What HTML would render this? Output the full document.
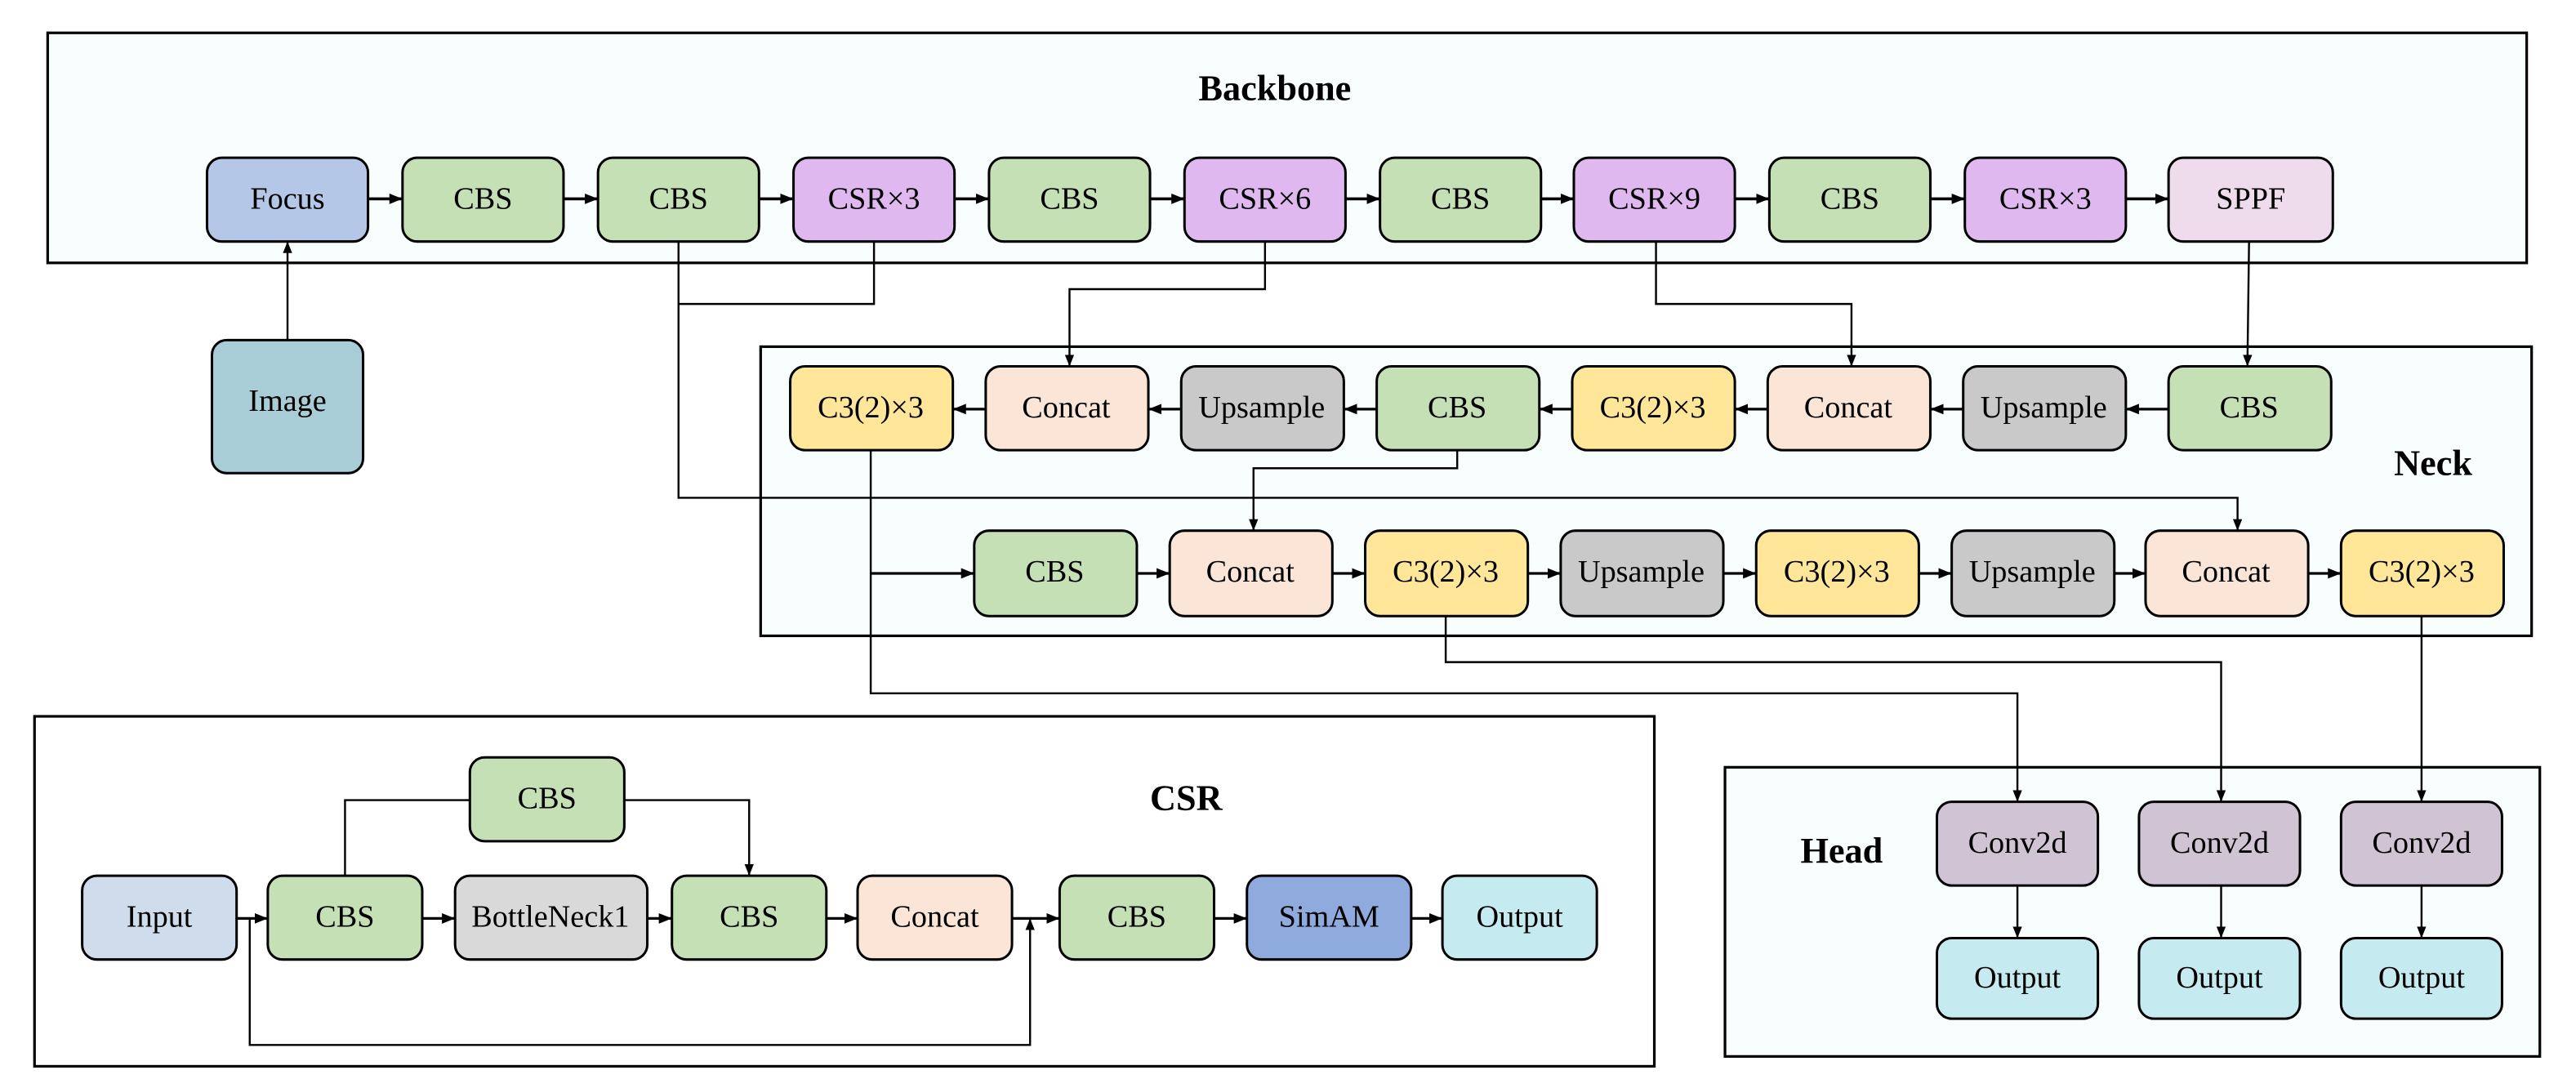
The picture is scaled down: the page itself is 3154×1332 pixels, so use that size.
<!DOCTYPE html>
<html><head><meta charset="utf-8"><style>
html,body{margin:0;padding:0;background:#fff;width:3154px;height:1332px;overflow:hidden}
#w{position:absolute;left:0;top:0;width:1568px;height:662.2px;transform:scale(2.01148);transform-origin:0 0}
svg{position:absolute;left:0;top:0;display:block}
.t{position:absolute;width:140px;margin-left:-70px;height:24px;line-height:24px;margin-top:-12px;text-align:center;font-family:"Liberation Serif","Times New Roman",serif;font-size:19px;color:#000;white-space:nowrap}
.b{font-weight:bold;font-size:22px}
</style></head>
<body><div id="w">
<svg width="1568" height="662.2" viewBox="0 0 1568 662.2" xmlns="http://www.w3.org/2000/svg">
<defs>
<marker id="a" viewBox="0 0 10 10" refX="10" refY="5" markerWidth="7" markerHeight="7" orient="auto" markerUnits="userSpaceOnUse"><path d="M0,1 L10,5 L0,9 z" fill="#000"/></marker>
<marker id="b" viewBox="0 0 10 10" refX="10" refY="5" markerWidth="8" markerHeight="8" orient="auto" markerUnits="userSpaceOnUse"><path d="M0,1 L10,5 L0,9 z" fill="#000"/></marker>
</defs>
<g fill="#f8fdfd" stroke="#000" stroke-width="1.6">
<rect x="29" y="20" width="1509" height="140"/>
<rect x="463" y="211" width="1078" height="176"/>
<rect x="1050" y="467" width="496" height="176"/>
<rect x="21" y="436" width="986" height="213" fill="#fff"/>
</g>
<g stroke="#000" stroke-width="1.2" fill="none">
<g stroke-width="1.8" marker-end="url(#b)">
<line x1="224" y1="121" x2="245" y2="121"/><line x1="343" y1="121" x2="364" y2="121"/><line x1="462" y1="121" x2="483" y2="121"/><line x1="581" y1="121" x2="602" y2="121"/><line x1="700" y1="121" x2="721" y2="121"/><line x1="819" y1="121" x2="840" y2="121"/><line x1="938" y1="121" x2="958" y2="121"/><line x1="1056" y1="121" x2="1077" y2="121"/><line x1="1175" y1="121" x2="1196" y2="121"/><line x1="1294" y1="121" x2="1320" y2="121"/>
</g>
<line x1="175" y1="207" x2="175" y2="147" marker-end="url(#a)"/>
<polyline points="532,147 532,185 413,185"/>
<polyline points="413,147 413,303 1362,303 1362,323" marker-end="url(#a)"/>
<polyline points="770,147 770,176 651,176 651,223" marker-end="url(#a)"/>
<polyline points="1008,147 1008,185 1127,185 1127,223" marker-end="url(#a)"/>
<polyline points="1369,147 1368,223" marker-end="url(#a)"/>
<g stroke-width="1.6" marker-end="url(#b)">
<line x1="600" y1="249" x2="580" y2="249"/><line x1="719" y1="249" x2="699" y2="249"/><line x1="838" y1="249" x2="818" y2="249"/><line x1="957" y1="249" x2="937" y2="249"/><line x1="1076" y1="249" x2="1056" y2="249"/><line x1="1195" y1="249" x2="1175" y2="249"/><line x1="1320" y1="249" x2="1294" y2="249"/>
<line x1="692" y1="349" x2="712" y2="349"/><line x1="811" y1="349" x2="831" y2="349"/><line x1="930" y1="349" x2="950" y2="349"/><line x1="1049" y1="349" x2="1069" y2="349"/><line x1="1168" y1="349" x2="1188" y2="349"/><line x1="1287" y1="349" x2="1306" y2="349"/><line x1="1405" y1="349" x2="1425" y2="349"/>
<line x1="530" y1="349" x2="593" y2="349"/>
</g>
<polyline points="887,274 887,285 763,285 763,323" marker-end="url(#a)"/>
<polyline points="530,274 530,422 1228,422 1228,488" marker-end="url(#a)"/>
<polyline points="880,375 880,403 1352,403 1352,488" marker-end="url(#a)"/>
<line x1="1474" y1="375" x2="1474" y2="488" marker-end="url(#a)"/>
<line x1="1228" y1="539" x2="1228" y2="571" marker-end="url(#a)"/>
<line x1="1352" y1="539" x2="1352" y2="571" marker-end="url(#a)"/>
<line x1="1474" y1="539" x2="1474" y2="571" marker-end="url(#a)"/>
<g stroke-width="1.6" marker-end="url(#b)">
<line x1="144" y1="559" x2="163" y2="559"/><line x1="257" y1="559" x2="277" y2="559"/><line x1="394" y1="559" x2="409" y2="559"/><line x1="503" y1="559" x2="522" y2="559"/><line x1="616" y1="559" x2="645" y2="559"/><line x1="739" y1="559" x2="759" y2="559"/><line x1="859" y1="559" x2="878" y2="559"/>
</g>
<polyline points="210,533 210,487 286,487"/>
<polyline points="380,487 456,487 456,533" marker-end="url(#a)"/>
<polyline points="152,559 152,636 627,636 627,559" marker-end="url(#a)"/>
</g>
<g stroke="#000" stroke-width="1.5">
<rect x="126" y="96" width="98" height="51" rx="9" fill="#b4c7e7"/>
<rect x="245" y="96" width="98" height="51" rx="9" fill="#c5e0b4"/>
<rect x="364" y="96" width="98" height="51" rx="9" fill="#c5e0b4"/>
<rect x="483" y="96" width="98" height="51" rx="9" fill="#dfb8f0"/>
<rect x="602" y="96" width="98" height="51" rx="9" fill="#c5e0b4"/>
<rect x="721" y="96" width="98" height="51" rx="9" fill="#dfb8f0"/>
<rect x="840" y="96" width="98" height="51" rx="9" fill="#c5e0b4"/>
<rect x="958" y="96" width="98" height="51" rx="9" fill="#dfb8f0"/>
<rect x="1077" y="96" width="98" height="51" rx="9" fill="#c5e0b4"/>
<rect x="1196" y="96" width="98" height="51" rx="9" fill="#dfb8f0"/>
<rect x="1320" y="96" width="100" height="51" rx="9" fill="#eedcec"/>
<rect x="129" y="207" width="92" height="81" rx="9" fill="#a9cdd7"/>
<rect x="481" y="223" width="99" height="51" rx="9" fill="#ffe699"/>
<rect x="600" y="223" width="99" height="51" rx="9" fill="#fbe5d6"/>
<rect x="719" y="223" width="99" height="51" rx="9" fill="#c9c9c9"/>
<rect x="838" y="223" width="99" height="51" rx="9" fill="#c5e0b4"/>
<rect x="957" y="223" width="99" height="51" rx="9" fill="#ffe699"/>
<rect x="1076" y="223" width="99" height="51" rx="9" fill="#fbe5d6"/>
<rect x="1195" y="223" width="99" height="51" rx="9" fill="#c9c9c9"/>
<rect x="1320" y="223" width="99" height="51" rx="9" fill="#c5e0b4"/>
<rect x="593" y="323" width="99" height="52" rx="9" fill="#c5e0b4"/>
<rect x="712" y="323" width="99" height="52" rx="9" fill="#fbe5d6"/>
<rect x="831" y="323" width="99" height="52" rx="9" fill="#ffe699"/>
<rect x="950" y="323" width="99" height="52" rx="9" fill="#c9c9c9"/>
<rect x="1069" y="323" width="99" height="52" rx="9" fill="#ffe699"/>
<rect x="1188" y="323" width="99" height="52" rx="9" fill="#c9c9c9"/>
<rect x="1306" y="323" width="99" height="52" rx="9" fill="#fbe5d6"/>
<rect x="1425" y="323" width="99" height="52" rx="9" fill="#ffe699"/>
<rect x="1179" y="488" width="98" height="51" rx="9" fill="#d0c3d4"/>
<rect x="1302" y="488" width="98" height="51" rx="9" fill="#d0c3d4"/>
<rect x="1425" y="488" width="98" height="51" rx="9" fill="#d0c3d4"/>
<rect x="1179" y="571" width="98" height="49" rx="9" fill="#c5ebf0"/>
<rect x="1302" y="571" width="98" height="49" rx="9" fill="#c5ebf0"/>
<rect x="1425" y="571" width="98" height="49" rx="9" fill="#c5ebf0"/>
<rect x="286" y="461" width="94" height="51" rx="9" fill="#c5e0b4"/>
<rect x="50" y="533" width="94" height="51" rx="9" fill="#cfdcec"/>
<rect x="163" y="533" width="94" height="51" rx="9" fill="#c5e0b4"/>
<rect x="277" y="533" width="117" height="51" rx="9" fill="#d9d9d9"/>
<rect x="409" y="533" width="94" height="51" rx="9" fill="#c5e0b4"/>
<rect x="522" y="533" width="94" height="51" rx="9" fill="#fbe5d6"/>
<rect x="645" y="533" width="94" height="51" rx="9" fill="#c5e0b4"/>
<rect x="759" y="533" width="100" height="51" rx="9" fill="#8faadc"/>
<rect x="878" y="533" width="94" height="51" rx="9" fill="#c5ebf0"/>
</g>
</svg>
<div class="t b" style="left:776px;top:54px">Backbone</div>
<div class="t b" style="left:1481px;top:282px">Neck</div>
<div class="t b" style="left:1121px;top:518px">Head</div>
<div class="t b" style="left:722px;top:486px">CSR</div>

<div class="t" style="left:175px;top:121.5px">Focus</div>
<div class="t" style="left:294px;top:121.5px">CBS</div>
<div class="t" style="left:413px;top:121.5px">CBS</div>
<div class="t" style="left:532px;top:121.5px">CSR×3</div>
<div class="t" style="left:651px;top:121.5px">CBS</div>
<div class="t" style="left:770px;top:121.5px">CSR×6</div>
<div class="t" style="left:889px;top:121.5px">CBS</div>
<div class="t" style="left:1007px;top:121.5px">CSR×9</div>
<div class="t" style="left:1126px;top:121.5px">CBS</div>
<div class="t" style="left:1245px;top:121.5px">CSR×3</div>
<div class="t" style="left:1370px;top:121.5px">SPPF</div>
<div class="t" style="left:175px;top:245px">Image</div>

<div class="t" style="left:530px;top:248.5px">C3(2)×3</div>
<div class="t" style="left:649px;top:248.5px">Concat</div>
<div class="t" style="left:768px;top:248.5px">Upsample</div>
<div class="t" style="left:887px;top:248.5px">CBS</div>
<div class="t" style="left:1006px;top:248.5px">C3(2)×3</div>
<div class="t" style="left:1125px;top:248.5px">Concat</div>
<div class="t" style="left:1244px;top:248.5px">Upsample</div>
<div class="t" style="left:1369px;top:248.5px">CBS</div>

<div class="t" style="left:642px;top:349px">CBS</div>
<div class="t" style="left:761px;top:349px">Concat</div>
<div class="t" style="left:880px;top:349px">C3(2)×3</div>
<div class="t" style="left:999px;top:349px">Upsample</div>
<div class="t" style="left:1118px;top:349px">C3(2)×3</div>
<div class="t" style="left:1237px;top:349px">Upsample</div>
<div class="t" style="left:1355px;top:349px">Concat</div>
<div class="t" style="left:1474px;top:349px">C3(2)×3</div>

<div class="t" style="left:1228px;top:513.5px">Conv2d</div>
<div class="t" style="left:1351px;top:513.5px">Conv2d</div>
<div class="t" style="left:1474px;top:513.5px">Conv2d</div>
<div class="t" style="left:1228px;top:595.5px">Output</div>
<div class="t" style="left:1351px;top:595.5px">Output</div>
<div class="t" style="left:1474px;top:595.5px">Output</div>

<div class="t" style="left:333px;top:486.5px">CBS</div>
<div class="t" style="left:97px;top:558.5px">Input</div>
<div class="t" style="left:210px;top:558.5px">CBS</div>
<div class="t" style="left:335px;top:558.5px">BottleNeck1</div>
<div class="t" style="left:456px;top:558.5px">CBS</div>
<div class="t" style="left:569px;top:558.5px">Concat</div>
<div class="t" style="left:692px;top:558.5px">CBS</div>
<div class="t" style="left:809px;top:558.5px">SimAM</div>
<div class="t" style="left:925px;top:558.5px">Output</div>
</div></body></html>
